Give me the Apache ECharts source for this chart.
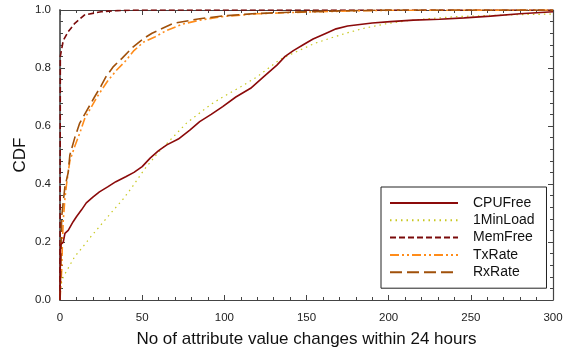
<!DOCTYPE html>
<html><head><meta charset="utf-8">
<script src="https://cdn.jsdelivr.net/npm/echarts@6/dist/echarts.min.js"></script>
<style>html,body{margin:0;padding:0;background:#fff}#c{width:573px;height:347px}</style>
</head><body><div id="c"></div>
<script>
var seriesNames = ["CPUFree", "1MinLoad", "MemFree", "TxRate", "RxRate"];
var xTicks = [0, 50, 100, 150, 200, 250, 300];
var yTicks = [0.0, 0.2, 0.4, 0.6, 0.8, 1.0];
var cpuFree = [[0,0.0],[0.3,0.19],[2,0.20],[3,0.23],[5,0.24],[8,0.27],[10,0.287],[13,0.31],[16,0.335],[20,0.355],[24,0.373],[29,0.39],[34,0.408],[40,0.425],[45,0.44],[50,0.46],[55,0.49],[60,0.515],[65,0.535],[72,0.555],[79,0.586],[85,0.615],[92,0.64],[99,0.667],[107,0.70],[116,0.73],[124,0.77],[132,0.81],[137,0.84],[142,0.86],[148,0.88],[154,0.9],[162,0.92],[168,0.935],[175,0.945],[190,0.955],[201,0.96],[215,0.965],[231,0.968],[246,0.973],[262,0.979],[280,0.987],[300,0.994]];
var minLoad = [[0,0.0],[0.5,0.05],[2,0.08],[5,0.11],[9,0.15],[14,0.184],[19,0.22],[24,0.253],[31,0.30],[38,0.345],[44,0.39],[51,0.448],[60,0.51],[69,0.563],[77,0.61],[85,0.645],[92,0.675],[99,0.70],[110,0.735],[120,0.77],[127,0.80],[134,0.83],[146,0.862],[155,0.885],[164,0.902],[174,0.92],[185,0.937],[198,0.952],[211,0.963],[226,0.971],[241,0.977],[260,0.981],[280,0.984],[300,0.986]];
var memFree = [[0,0.0],[0.2,0.84],[1,0.865],[2,0.895],[5,0.925],[9,0.954],[15,0.983],[25,0.994],[35,0.998],[47,1.0],[300,1.0]];
var txRate = [[0,0.0],[0.5,0.05],[1,0.10],[1.5,0.2],[2,0.276],[3,0.35],[4,0.40],[6,0.48],[9,0.53],[12,0.575],[15,0.625],[18,0.655],[21,0.685],[24,0.713],[29,0.755],[34.5,0.793],[40,0.825],[45,0.86],[51,0.89],[58,0.908],[65,0.93],[75,0.952],[85,0.965],[100,0.978],[120,0.987],[150,0.993],[180,0.997],[200,0.999],[300,1.0]];
var rxRate = [[0,0.0],[0.5,0.1],[1,0.285],[2,0.34],[3,0.39],[5,0.44],[6,0.50],[9,0.56],[12,0.61],[15,0.64],[18,0.67],[21,0.70],[25,0.738],[28,0.77],[32.5,0.805],[38,0.835],[44,0.87],[51,0.902],[56,0.92],[69,0.954],[85,0.97],[100,0.98],[120,0.988],[150,0.994],[180,0.998],[200,1.0],[300,1.0]];

var font = "Liberation Sans, Arial, sans-serif";
var axisColor = "#444";
function baseAxis(extra){
  return Object.assign({
    axisLine:{show:true,onZero:false,lineStyle:{color:axisColor,width:1.2}},
    axisTick:{show:true,inside:true,length:5,lineStyle:{color:axisColor}},
    minorTick:{show:true,splitNumber:5,length:3,lineStyle:{color:axisColor}},
    splitLine:{show:false}
  }, extra);
}
var chart = echarts.init(document.getElementById('c'), null, {renderer:'canvas'});
chart.setOption({
  animation:false,
  backgroundColor:'#fff',
  grid:{left:60,right:20,top:10,bottom:47,containLabel:false,outerBoundsMode:'none'},
  xAxis:[
    baseAxis({type:'value',min:xTicks[0],max:xTicks[xTicks.length-1],interval:50,position:'bottom',
      name:'No of attribute value changes within 24 hours',nameLocation:'middle',nameGap:31,nameMoveOverlap:false,
      nameTextStyle:{fontFamily:font,fontSize:17,color:'#111'},
      axisLabel:{fontFamily:font,fontSize:11.5,color:'#222',margin:12}}),
    baseAxis({type:'value',min:0,max:300,interval:50,position:'top',axisLabel:{show:false}})
  ],
  yAxis:[
    baseAxis({type:'value',min:yTicks[0],max:yTicks[yTicks.length-1],interval:0.2,position:'left',
      name:'CDF',nameLocation:'middle',nameGap:31,nameMoveOverlap:false,
      nameTextStyle:{fontFamily:font,fontSize:17,color:'#111'},
      axisLine:{show:true,onZero:false,lineStyle:{color:'#6a6a6a',width:2}},
      axisLabel:{fontFamily:font,fontSize:11.5,color:'#222',margin:9,formatter:function(v){return v.toFixed(1);}}}),
    baseAxis({type:'value',min:0,max:1,interval:0.2,position:'right',axisLabel:{show:false}})
  ],
  legend:{
    orient:'vertical',left:381,top:187,
    data:seriesNames,
    itemWidth:68,itemHeight:14,itemGap:3.3,
    padding:[9,12,9,8],
    borderColor:'#222',borderWidth:1,borderRadius:0,
    itemStyle:{opacity:0},
    textStyle:{fontFamily:font,fontSize:14,color:'#111',padding:[0,0,0,10]}
  },
  series:[
    {name:seriesNames[0],type:'line',data:cpuFree,showSymbol:false,symbol:'none',lineStyle:{color:'#8b0a0a',width:1.6,type:'solid'},itemStyle:{color:'#8b0a0a'},z:5},
    {name:seriesNames[1],type:'line',data:minLoad,showSymbol:false,symbol:'none',lineStyle:{color:'#c8c820',width:1.2,type:[1.5,4]},itemStyle:{color:'#c8c820'}},
    {name:seriesNames[2],type:'line',data:memFree,showSymbol:false,symbol:'none',lineStyle:{color:'#7a0a0a',width:1.6,type:[6,3]},itemStyle:{color:'#7a0a0a'}},
    {name:seriesNames[3],type:'line',data:txRate,showSymbol:false,symbol:'none',lineStyle:{color:'#ff8c1a',width:1.6,type:[9,3,2,3,2,3]},itemStyle:{color:'#ff8c1a'}},
    {name:seriesNames[4],type:'line',data:rxRate,showSymbol:false,symbol:'none',lineStyle:{color:'#a0500a',width:1.6,type:[12,5]},itemStyle:{color:'#a0500a'}}
  ]
});
</script></body></html>
